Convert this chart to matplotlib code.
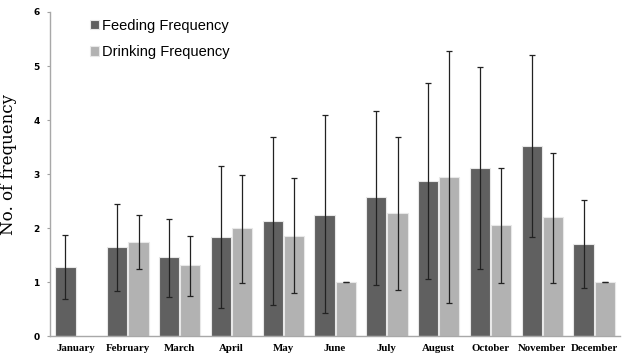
import matplotlib
matplotlib.use("Agg")
import matplotlib.pyplot as plt
import numpy as np

months = ["January", "February", "March", "April", "May", "June", "July",
          "August", "October", "November", "December"]
feeding = [1.28, 1.64, 1.46, 1.83, 2.13, 2.25, 2.57, 2.87, 3.11, 3.52, 1.70]
feeding_hi = [1.87, 2.45, 2.17, 3.15, 3.69, 4.09, 4.17, 4.68, 4.99, 5.20, 2.52]
feeding_lo = [0.68, 0.83, 0.72, 0.52, 0.57, 0.42, 0.94, 1.06, 1.25, 1.83, 0.88]
drinking = [np.nan, 1.75, 1.31, 2.00, 1.86, 1.00, 2.27, 2.95, 2.06, 2.20, 1.00]
drinking_hi = [np.nan, 2.24, 1.86, 2.99, 2.93, 1.00, 3.69, 5.27, 3.12, 3.39, 1.00]
drinking_lo = [np.nan, 1.25, 0.75, 0.99, 0.79, 1.00, 0.85, 0.61, 0.98, 0.98, 1.00]
yticks = [0, 1, 2, 3, 4, 5, 6]

feeding = np.array(feeding); drinking = np.array(drinking)
f_err = [feeding - np.array(feeding_lo), np.array(feeding_hi) - feeding]
d_err = [drinking - np.array(drinking_lo), np.array(drinking_hi) - drinking]

fig = plt.figure(figsize=(6.27, 3.55), dpi=100)
ax = fig.add_axes([0.080, 0.0535, 0.909, 0.9127])
x = np.arange(len(months))
w = 0.39
ekw = dict(ecolor="#222222", elinewidth=0.9, capsize=2.2, capthick=0.9)
ax.bar(x - w/2 - 0.01, feeding, w, color="#606060", edgecolor="#e8e8e8",
       linewidth=0.8, yerr=f_err, error_kw=ekw, label="Feeding Frequency")
ax.bar(x + w/2 + 0.01, drinking, w, color="#b2b2b2", edgecolor="#e8e8e8",
       linewidth=0.8, yerr=d_err, error_kw=ekw, label="Drinking Frequency")

ax.set_xlim(-0.5, len(months) - 0.5)
ax.set_ylim(0, 6)
ax.set_yticks(yticks)
ax.set_yticklabels([str(t) for t in yticks], fontsize=6.5, fontweight="bold",
                   family="DejaVu Sans")
ax.set_xticks(x)
ax.set_xticklabels(months, fontsize=7.8, fontweight="bold", family="Liberation Serif")
ax.tick_params(axis="x", length=0, pad=6)
ax.tick_params(axis="y", length=2.5, color="#a0a0a0", width=0.8, pad=5)
for s in ["top", "right"]:
    ax.spines[s].set_visible(False)
for s in ["left", "bottom"]:
    ax.spines[s].set_color("#a8a8a8")
    ax.spines[s].set_linewidth(1.0)
ax.set_ylabel("No. of frequency", fontsize=12, family="DejaVu Serif")
ax.yaxis.set_label_coords(-0.058, 0.53)

leg = ax.legend(loc="upper left", bbox_to_anchor=(0.047, 1.02), frameon=False,
                handlelength=0.6, handleheight=0.6, handletextpad=0.2,
                labelspacing=0.85, prop={"family": "Liberation Sans", "size": 10.5})

fig.savefig("out.png", dpi=100)
